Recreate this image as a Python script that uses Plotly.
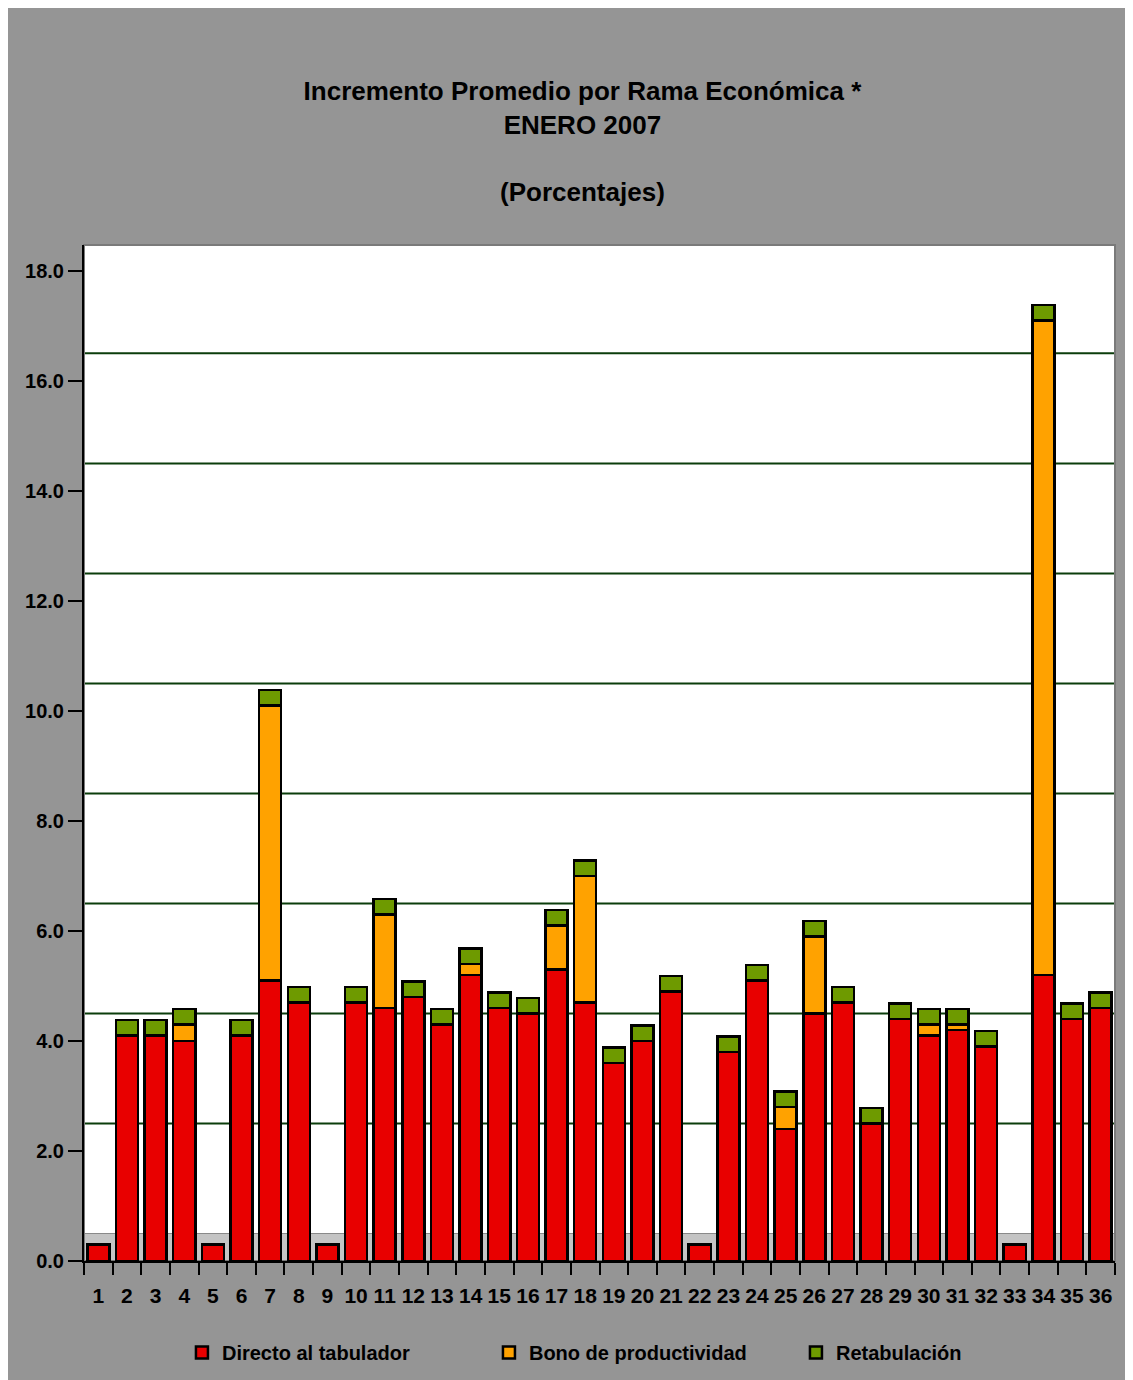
import plotly.graph_objects as go

ramas = [str(i) for i in range(1, 37)]

directo = [0.3, 4.1, 4.1, 4.0, 0.3, 4.1, 5.1, 4.7, 0.3, 4.7,
           4.6, 4.8, 4.3, 5.2, 4.6, 4.5, 5.3, 4.7, 3.6, 4.0,
           4.9, 0.3, 3.8, 5.1, 2.4, 4.5, 4.7, 2.5, 4.4, 4.1,
           4.2, 3.9, 0.3, 5.2, 4.4, 4.6]

bono = [0.0, 0.0, 0.0, 0.3, 0.0, 0.0, 5.0, 0.0, 0.0, 0.0,
        1.7, 0.0, 0.0, 0.2, 0.0, 0.0, 0.8, 2.3, 0.0, 0.0,
        0.0, 0.0, 0.0, 0.0, 0.4, 1.4, 0.0, 0.0, 0.0, 0.2,
        0.1, 0.0, 0.0, 11.9, 0.0, 0.0]

retab = [0.0, 0.28, 0.28, 0.28, 0.0, 0.28, 0.28, 0.28, 0.0, 0.28,
         0.28, 0.28, 0.28, 0.28, 0.28, 0.28, 0.28, 0.28, 0.28, 0.28,
         0.28, 0.0, 0.28, 0.28, 0.28, 0.28, 0.28, 0.28, 0.28, 0.28,
         0.28, 0.28, 0.0, 0.28, 0.28, 0.28]

y_ticks = [0, 2, 4, 6, 8, 10, 12, 14, 16, 18]
grid_back = [2.5, 4.5, 6.5, 8.5, 10.5, 12.5, 14.5, 16.5]

FONT = "Liberation Sans, Arial, sans-serif"
GRIS = "#959595"

fig = go.Figure()
series = [
    ("Directo al tabulador", directo, "#E80000"),
    ("Bono de productividad", bono, "#FFA200"),
    ("Retabulación", retab, "#6E9A00"),
]
for nombre, vals, color in series:
    fig.add_trace(go.Bar(
        x=ramas, y=vals, name=f"<b>{nombre}</b>",
        marker=dict(color=color, line=dict(color="black", width=2.5)),
    ))

# back wall gridlines (offset like the 3D original)
for g in grid_back:
    fig.add_hline(y=g, line=dict(color="#0B3D0B", width=2), layer="below")

# floor of the 3D chart
fig.add_shape(type="rect", xref="paper", yref="y", x0=0, x1=1, y0=0, y1=0.5,
              fillcolor="#C4C4C4", line=dict(color="#8A8A8A", width=1), layer="below")

# light frame on the top and right edges of the wall
fig.add_shape(type="rect", xref="paper", yref="paper", x0=0, x1=1, y0=0, y1=1,
              line=dict(color="#7A7A7A", width=2), layer="below")

fig.update_layout(
    width=1133, height=1380,
    barmode="stack", bargap=0.23,
    paper_bgcolor=GRIS, plot_bgcolor="white",
    margin=dict(l=76, r=26, t=237, b=127, autoexpand=False),
    font=dict(family=FONT, color="black", size=20),
    title=dict(
        text="<b>Incremento Promedio por Rama Económica *<br>ENERO 2007<br><br>(Porcentajes)</b>",
        x=0.507, xref="container", xanchor="center",
        y=0.9335, yref="container", yanchor="top",
        font=dict(family=FONT, size=26, color="black"),
    ),
    showlegend=True,
    legend=dict(
        orientation="h", x=0.095, xanchor="left", y=-0.09, yanchor="middle",
        traceorder="normal", entrywidth=262, entrywidthmode="pixels",
        font=dict(family=FONT, size=20, color="black"),
        bgcolor="rgba(0,0,0,0)",
    ),
    xaxis=dict(
        type="category", tickson="boundaries", ticks="outside", ticklen=12,
        tickwidth=2, tickcolor="black", showline=True, linecolor="black", linewidth=2,
        showgrid=False, tickfont=dict(family=FONT, size=21), tickangle=0,
        tickvals=ramas, ticktext=[f"<b>{r}</b>" for r in ramas],
        ticklabelstandoff=15,
    ),
    yaxis=dict(
        range=[0, 18.47], tickvals=y_ticks,
        ticktext=[f"<b>{v:.1f}</b>" for v in y_ticks],
        ticks="outside", ticklen=14, tickwidth=2, tickcolor="black",
        showline=True, linecolor="black", linewidth=2, showgrid=False,
        zeroline=False, tickfont=dict(family=FONT, size=20),
    ),
)

fig.write_html("out.html")
